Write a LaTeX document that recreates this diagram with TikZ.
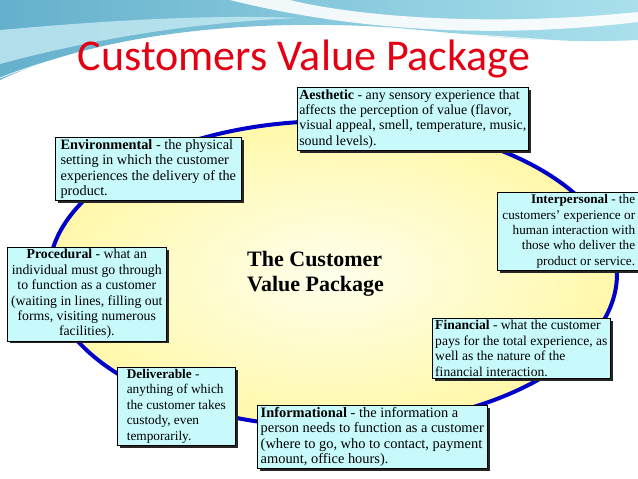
\documentclass[tikz,border=0pt]{standalone}
\usepackage{fontspec}
\setmainfont{Liberation Serif}
\newfontfamily\titlefont{Carlito}
\definecolor{hdrA}{RGB}{100,176,204}
\definecolor{hdrB}{RGB}{170,224,236}
\definecolor{hdrC}{RGB}{196,234,242}
\definecolor{titlered}{RGB}{228,0,20}
\definecolor{ringblue}{RGB}{0,0,200}
\definecolor{boxfill}{RGB}{200,250,252}
\definecolor{yelin}{RGB}{255,255,236}
\definecolor{yelout}{RGB}{255,248,170}
\tikzset{
  infobox/.style={draw=black, line width=0.6pt, fill=boxfill, inner xsep=2pt, inner ysep=2pt,
    anchor=north west, font=\fontsize{#1}{15.4}\selectfont,
    preaction={fill=black!85, transform canvas={shift={(2.5pt,-2.5pt)}}}},
  infobox/.default=13.5,
}
\begin{document}
\begin{tikzpicture}[x=1pt,y=-1pt]
\useasboundingbox (0,0) rectangle (638,479);
\fill[white] (0,0) rectangle (638,479);
% header
\shade[left color=hdrA, right color=hdrB]
  (0,0) -- (638,0) -- (638,40) .. controls (560,44) and (480,36) .. (420,30)
  .. controls (300,18) and (120,24) .. (0,80) -- cycle;
\fill[hdrC, opacity=0.8]
  (0,30) .. controls (90,22) and (200,14) .. (300,18)
  .. controls (200,22) and (100,37) .. (0,64) -- cycle;
\fill[white, opacity=0.9]
  (230,0) .. controls (330,25) and (470,42) .. (638,22) -- (638,12)
  .. controls (480,28) and (350,15) .. (290,0) -- cycle;
\draw[white, line width=1pt, opacity=0.8]
  (0,78) .. controls (120,30) and (300,15) .. (638,48);
% title
\node[font=\titlefont\fontsize{44}{48}\selectfont, text=titlered, anchor=base, inner sep=0]
  (title) at (304,70) {Customers Value Package};
% ellipse
\shadedraw[draw=ringblue, line width=4pt, inner color=yelin, outer color=yelout]
  (333,274) ellipse [x radius=284pt, y radius=153pt];
\node[anchor=north west, inner sep=0, align=left,
  font=\bfseries\fontsize{22}{25}\selectfont] (center) at (247,251)
  {The Customer\\Value Package};
% boxes
\node[infobox=13.9, minimum width=229pt, minimum height=63pt, align=left] (aes) at (297,87)
  {\textbf{Aesthetic} - any sensory experience that\\affects the perception of value (flavor,\\visual appeal, smell, temperature, music,\\sound levels).};
\node[infobox=14.3, minimum width=186pt, minimum height=59pt, align=left] (env) at (55,137)
  {\textbf{Environmental} - the physical\\setting in which the customer\\experiences the delivery of the\\product.};
\node[infobox=13.2, minimum width=143pt, minimum height=78pt, align=right] (inter) at (497,192)
  {\textbf{Interpersonal} - the\\customers’ experience or\\human interaction with\\those who deliver the\\product or service.};
\node[infobox=13.8, minimum width=159pt, minimum height=93pt, align=center] (proc) at (7,247)
  {\textbf{Procedural} - what an\\individual must go through\\to function as a customer\\(waiting in lines, filling out\\forms, visiting numerous\\facilities).};
\node[infobox=13.6, minimum width=178pt, minimum height=60pt, align=left] (fin) at (432,318)
  {\textbf{Financial} - what the customer\\pays for the total experience, as\\well as the nature of the\\financial interaction.};
\node[infobox=13.3, minimum width=118pt, minimum height=74pt, align=left] (deliv) at (117,367)
  {\textbf{Deliverable} -\\anything of which\\the customer takes\\custody, even\\temporarily.};
\node[infobox=14.4, minimum width=230pt, minimum height=62pt, align=left] (info) at (257,405)
  {\textbf{Informational} - the information a\\person needs to function as a customer\\(where to go, who to contact, payment\\amount, office hours).};
\end{tikzpicture}
\end{document}
